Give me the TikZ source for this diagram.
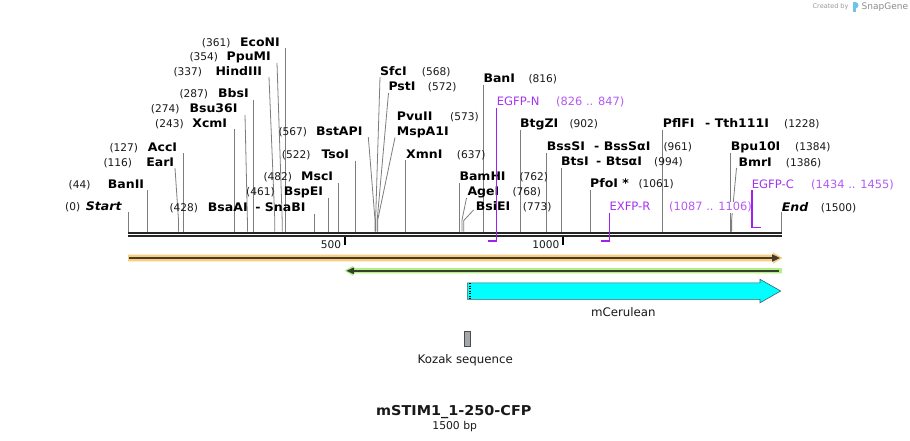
\documentclass[tikz,border=0pt]{standalone}
\usepackage{fontspec}
\setmainfont{DejaVu Sans}
\newfontfamily\enzfont{DejaVu Sans}[FakeStretch=1.06]
\definecolor{numgrey}{RGB}{25,25,25}
\definecolor{sitegrey}{RGB}{125,125,125}
\definecolor{bbcol}{RGB}{38,38,38}
\definecolor{primer}{RGB}{160,32,240}
\definecolor{primertxt}{RGB}{165,52,240}
\definecolor{primernum}{RGB}{180,92,242}
\definecolor{orband}{RGB}{251,205,128}
\definecolor{orline}{RGB}{70,60,45}
\definecolor{grband}{RGB}{181,238,134}
\definecolor{grline}{RGB}{50,65,42}
\definecolor{cyanfill}{RGB}{0,255,255}
\definecolor{cyanedge}{RGB}{60,95,110}
\definecolor{kozfill}{RGB}{163,167,171}
\definecolor{sglogo}{RGB}{110,195,235}
\tikzset{
  enz/.style={font=\enzfont\bfseries\fontsize{11.8}{13}\selectfont, inner sep=0pt},
  num/.style={font=\fontsize{10.6}{12}\selectfont, text=numgrey, inner sep=0pt},
  ptxt/.style={font=\fontsize{11.6}{13}\selectfont, text=primertxt, inner sep=0pt},
  pnum/.style={font=\fontsize{11.4}{13}\selectfont, text=primernum, fill=white, inner sep=0.5pt},
  feat/.style={font=\fontsize{11.8}{13}\selectfont, text=numgrey, inner sep=0pt},
  site/.style={draw=sitegrey, line width=0.8pt},
  bb/.style={draw=bbcol, line width=2.2pt},
  tick/.style={draw=black, line width=1.8pt},
  primerline/.style={draw=primer, line width=1.6pt},
}
% left-side label: id, y-centre, number start x, name end x, number, name
\newcommand\rsL[6]{%
  \node[num, anchor=base west] (#1-p) at (#3,#2+4) {(#5)};
  \node[enz, anchor=base east] (#1) at (#4,#2+4) {#6};}
% right-side label: id, y-centre, name start x, number start x, name, number
\newcommand\rsR[6]{%
  \node[enz, anchor=base west] (#1) at (#3,#2+4) {#5};
  \node[num, anchor=base west] (#1-p) at (#4,#2+4) {(#6)};}
% vertical cut line: id, x, top y
\newcommand\cutV[3]{%
  \coordinate (#1-t) at (#2,#3); \coordinate (#1-c) at (#2,231.6);
  \draw[site] (#1-t) -- (#1-c);}
% slanted cut line: id, top x, top y, site x, bend y
\newcommand\cutS[5]{%
  \coordinate (#1-t) at (#2,#3); \coordinate (#1-b) at (#4,#5); \coordinate (#1-c) at (#4,231.6);
  \draw[site] (#1-t) -- (#1-b) -- (#1-c);}
\begin{document}
\begin{tikzpicture}[x=1pt,y=-1pt]
\useasboundingbox (0,0) rectangle (910,441);
\fill[white] (0,0) rectangle (910,441);

% ---------- watermark ----------
\node[font=\fontsize{6.5}{8}\selectfont, text=black!40, anchor=west, inner sep=0pt] (cby) at (812.5,7) {Created by};
\fill[sglogo] (853,2) rectangle (855.5,12.5);
\fill[sglogo] (855.5,2) .. controls (859.5,2.5) and (859.5,8) .. (855.5,8.5) -- cycle;
\node[font=\fontsize{9}{10}\selectfont, text=black!45, anchor=west, inner sep=0pt] (sg) at (861.5,7.5) {SnapGene};

% ---------- backbone ----------
\coordinate (bbL1) at (128,232.8); \coordinate (bbR1) at (781.7,232.8);
\coordinate (bbL2) at (128,236.3); \coordinate (bbR2) at (781.7,236.3);
\draw[bb] (bbL1) -- (bbR1);
\draw[bb] (bbL2) -- (bbR2);

% ticks
\coordinate (t500a) at (345,237); \coordinate (t500b) at (345,244.5);
\draw[tick] (t500a) -- (t500b);
\node[font=\fontsize{10.6}{12}\selectfont, text=numgrey, anchor=base east, inner sep=0pt] (l500) at (341.3,248.6) {500};
\coordinate (t1000a) at (563.3,237); \coordinate (t1000b) at (563.3,244.5);
\draw[tick] (t1000a) -- (t1000b);
\node[font=\fontsize{10.6}{12}\selectfont, text=numgrey, anchor=base east, inner sep=0pt] (l1000) at (559.5,248.6) {1000};

% ---------- cut sites: lines ----------
\cutV{Start}{128.3}{212}
\cutV{BanII}{147.3}{190}
\cutS{EarI}{175}{168}{178.5}{220}
\cutV{AccI}{183.3}{153}
\cutV{BsaAI}{314.3}{214}
\cutV{XcmI}{234.3}{129.5}
\cutS{Bsu36I}{245}{115}{247.4}{220}
\cutV{BbsI}{253.5}{100}
\cutS{HindIII}{269}{77}{274.8}{220}
\cutS{PpuMI}{277}{63}{282.2}{220}
\cutV{EcoNI}{285.5}{48}
\cutV{BspEI}{328.5}{198}
\cutV{MscI}{338.3}{183}
\cutV{TsoI}{355.3}{160.5}
\cutS{BstAPI}{368.3}{137}{375}{220}
\cutS{SfcI}{380}{77}{375.6}{220}
\cutS{PstI}{388.5}{93}{377.2}{220}
\cutS{PvuII}{395}{137.5}{377.7}{220}
\cutV{XmnI}{405.5}{160}
\cutV{BanI}{483.5}{85}
\cutV{BamHI}{459.5}{183}
\cutS{AgeI}{466.5}{198}{462}{220}
\cutS{BsiEI}{473.5}{210}{463.8}{220.5}
\cutV{BtgZI}{520.5}{130}
\cutV{BssSI}{546.7}{153}
\cutV{BtsI}{561}{168}
\cutV{PfoI}{590.3}{190}
\cutV{PflFI}{662.8}{130}
\cutV{Bpu10I}{730.7}{153}
\cutS{BmrI}{736.5}{168}{731.6}{220}
\cutV{End}{781.5}{212}

% ---------- cut sites: labels (left side) ----------
\rsL{lStart}{206.7}{65}{121.7}{0}{\itshape Start}
\rsL{lBanII}{184}{68.5}{144.3}{44}{BanII}
\rsL{lEarI}{162.3}{103.3}{174.3}{116}{EarI}
\rsL{lAccI}{147.3}{109.3}{177.3}{127}{AccI}
\node[num, anchor=base west] (lBsaAI-p) at (169.3,211.3) {(428)};
\node[enz, anchor=base west] (lBsaAI) at (207.7,211.3) {BsaAI};
\node[enz, anchor=base east] (lSnaBI) at (305.7,211.3) {-\ SnaBI};
\rsL{lXcmI}{123.3}{155}{227.3}{243}{XcmI}
\rsL{lBsu36I}{109}{150.7}{237.7}{274}{Bsu36I}
\rsL{lBbsI}{94}{179.3}{249}{287}{BbsI}
\rsL{lHindIII}{71.7}{173.3}{262.3}{337}{HindIII}
\rsL{lPpuMI}{56.7}{189.3}{271}{354}{PpuMI}
\rsL{lEcoNI}{42.3}{201.7}{280}{361}{EcoNI}
\rsL{lBspEI}{191.7}{246}{323.3}{461}{BspEI}
\rsL{lMscI}{176.7}{263.3}{333.3}{482}{MscI}
\rsL{lTsoI}{154}{281.7}{349.3}{522}{TsoI}
\rsL{lBstAPI}{131.7}{278.3}{362.7}{567}{BstAPI}

% ---------- cut sites: labels (right side) ----------
\rsR{lSfcI}{71.7}{380}{421.7}{SfcI}{568}
\rsR{lPstI}{86.7}{388.3}{427.7}{PstI}{572}
\rsR{lPvuII}{116.7}{396.7}{450}{PvuII}{573}
\node[enz, anchor=base west] (lMspA1I) at (396.7,135.7) {MspA1I};
\rsR{lXmnI}{154}{406}{456.7}{XmnI}{637}
\rsR{lBanI}{78.3}{483.3}{528.3}{BanI}{816}
\rsR{lBamHI}{176.7}{459.3}{519.3}{BamHI}{762}
\rsR{lAgeI}{191.7}{467.3}{512.3}{AgeI}{768}
\rsR{lBsiEI}{206.7}{475.7}{522.7}{BsiEI}{773}
\rsR{lBtgZI}{123.3}{520}{569.3}{BtgZI}{902}
\rsR{lBssSI}{146.7}{546.7}{663.3}{BssSI}{961}
\node[enz, anchor=base west] (lBssSaI) at (594,150.7) {-\ BssSαI};
\rsR{lBtsI}{161.7}{561}{654}{BtsI}{994}
\node[enz, anchor=base west] (lBtsaI) at (596,165.7) {-\ BtsαI};
\rsR{lPfoI}{183.3}{590}{638.3}{PfoI *}{1061}
\rsR{lPflFI}{124}{662.7}{784}{PflFI}{1228}
\node[enz, anchor=base west] (lTth) at (705,128) {-\ Tth111I};
\rsR{lBpu10I}{146.7}{730.7}{795}{Bpu10I}{1384}
\rsR{lBmrI}{162.3}{738.3}{785.7}{BmrI}{1386}
\rsR{lEnd}{207.3}{781.7}{820.7}{\itshape End}{1500}

% ---------- primers ----------
\node[ptxt, anchor=base west] (pN) at (496.7,105.9) {EGFP-N};
\node[pnum, anchor=base west] (pN-p) at (555.5,105.9) {(826 .. 847)};
\coordinate (pN-t) at (496.3,108); \coordinate (pN-c) at (496.3,241.2); \coordinate (pN-e) at (487.5,241.2);
\draw[primerline] (pN-t) -- (pN-c) -- (pN-e);

\node[ptxt, anchor=base west] (pR) at (609.3,210.9) {EXFP-R};
\node[pnum, anchor=base west] (pR-p) at (668.5,210.9) {(1087 .. 1106)};
\coordinate (pR-t) at (609.3,212.5); \coordinate (pR-c) at (609.3,241.2); \coordinate (pR-e) at (601,241.2);
\draw[primerline] (pR-t) -- (pR-c) -- (pR-e);

\node[ptxt, anchor=base west] (pC) at (751.7,188.2) {EGFP-C};
\node[pnum, anchor=base west] (pC-p) at (810.5,188.2) {(1434 .. 1455)};
\coordinate (pC-t) at (751.9,190); \coordinate (pC-c) at (751.9,227.4); \coordinate (pC-e) at (761,227.4);
\draw[primerline] (pC-t) -- (pC-c) -- (pC-e);

% ---------- features ----------
% orange (full length, forward)
\fill[orband] (128,254.7) -- (773,254.7) -- (773,252.3) -- (782.5,258) -- (773,263.7) -- (773,261.3) -- (128,261.3) -- cycle;
\coordinate (orL) at (129,258); \coordinate (orR) at (774,258);
\draw[orline, line width=1.7pt] (orL) -- (orR);
\fill[orline] (772,254.2) -- (780,258) -- (772,261.8) -- cycle;

% green (reverse)
\fill[grband] (781.8,268.2) -- (353,268.2) -- (353,265.8) -- (344.5,270.8) -- (353,275.8) -- (353,273.4) -- (781.8,273.4) -- cycle;
\coordinate (grL) at (352,270.8); \coordinate (grR) at (779,270.8);
\draw[grline, line width=1.7pt] (grL) -- (grR);
\fill[grline] (354,267.3) -- (346.5,270.8) -- (354,274.3) -- cycle;

% mCerulean
\draw[fill=cyanfill, draw=cyanedge, line width=0.6pt]
  (467.3,282.8) -- (760,282.8) -- (760,279.3) -- (780.7,291) -- (760,302.8) -- (760,299.3) -- (467.3,299.3) -- cycle;
\draw[black, line width=0.5pt, dotted] (468.9,283.3) -- (468.9,298.8);
\draw[black, line width=0.5pt, dotted] (470.6,283.3) -- (470.6,298.8);
\node[feat, anchor=base] (mcer) at (623.3,316.5) {mCerulean};

% Kozak
\draw[fill=kozfill, draw=black!70, line width=0.5pt] (464.4,331) rectangle (469.9,346);
\node[feat, anchor=base] (koz) at (465.3,363.5) {Kozak sequence};

% ---------- title ----------
\node[font=\enzfont\bfseries\fontsize{13.6}{15}\selectfont, text=numgrey, anchor=base, inner sep=0pt] (title) at (453.8,415) {mSTIM1\_1-250-CFP};
\node[font=\fontsize{10.8}{12}\selectfont, text=numgrey, anchor=base, inner sep=0pt] (len) at (454.7,429.8) {1500 bp};
\end{tikzpicture}
\end{document}
